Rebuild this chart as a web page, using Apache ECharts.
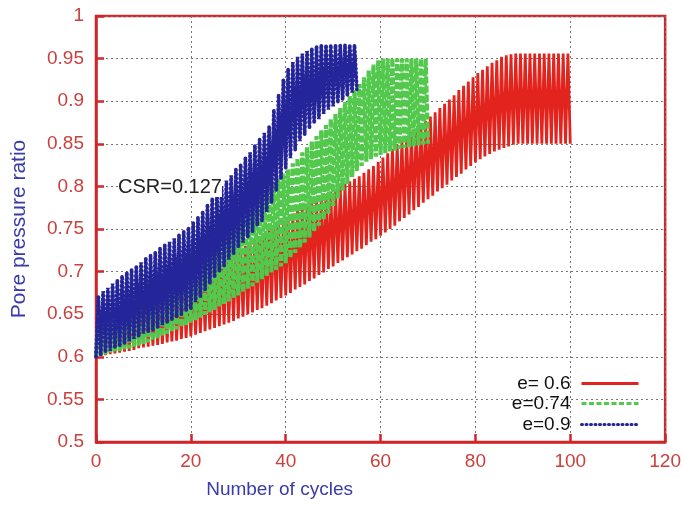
<!DOCTYPE html>
<html>
<head>
<meta charset="utf-8">
<title>Pore pressure ratio vs number of cycles</title>
<script src="https://cdn.jsdelivr.net/npm/echarts@6/dist/echarts.min.js"></script>
<style>
  html, body { margin: 0; padding: 0; background: #fff; }
  #chart { width: 684px; height: 507px; }
</style>
</head>
<body>
<div id="chart"></div>
<script>
// axis ticks
const xTicks = [0, 20, 40, 60, 80, 100, 120]
const yTicks = [0.5, 0.55, 0.6, 0.65, 0.7, 0.75, 0.8, 0.85, 0.9, 0.95, 1]

// e = 0.6 : minimum of each cycle (cycle 0..100) and maximum (cycle 0..99)
const redTrough = [
  .600, .601, .602, .603, .604, .605, .606, .607, .608, .610, .611,
  .612, .613, .614, .615, .617, .618, .619, .621, .622, .624,
  .626, .628, .630, .632, .634, .636, .638, .640, .642, .645,
  .647, .650, .652, .655, .657, .660, .663, .666, .669, .672,
  .675, .679, .682, .685, .689, .692, .696, .699, .703, .706,
  .710, .713, .717, .720, .724, .727, .731, .735, .738, .742,
  .746, .750, .754, .759, .763, .767, .772, .776, .781, .785,
  .789, .794, .798, .802, .807, .811, .815, .820, .824, .828,
  .832, .835, .838, .841, .843, .845, .847, .849, .850, .850,
  .850, .850, .850, .850, .850, .850, .850, .850, .850, .850
]
const redPeak = [
  .628, .632, .635, .638, .641, .644, .647, .650, .654, .657,
  .660, .663, .666, .668, .671, .674, .677, .680, .682, .685,
  .688, .692, .696, .699, .703, .707, .711, .715, .718, .722,
  .726, .730, .734, .738, .741, .745, .749, .753, .757, .760,
  .764, .768, .771, .775, .778, .781, .785, .788, .791, .794,
  .797, .800, .803, .806, .809, .812, .816, .820, .824, .829,
  .834, .839, .844, .849, .854, .859, .864, .868, .873, .877,
  .882, .887, .892, .897, .902, .907, .913, .918, .923, .928,
  .933, .937, .941, .945, .948, .952, .954, .955, .956, .956,
  .956, .956, .956, .956, .956, .956, .956, .956, .956, .956
]

// e = 0.74 : cycle 0..70
const greenTrough = [
  .600, .601, .603, .604, .606, .607, .609, .610, .612, .613, .615,
  .617, .619, .622, .624, .627, .630, .632, .635, .637, .640,
  .643, .646, .649, .652, .655, .659, .662, .665, .669, .672,
  .676, .680, .683, .687, .691, .695, .699, .702, .706, .710,
  .716, .722, .728, .734, .740, .747, .754, .761, .768, .777,
  .786, .795, .803, .811, .818, .824, .829, .832, .835, .837,
  .839, .841, .842, .844, .845, .846, .847, .848, .849, .850
]
const greenPeak = [
  .640, .644, .648, .652, .656, .660, .664, .668, .672, .676,
  .680, .684, .688, .693, .697, .701, .706, .710, .714, .718,
  .722, .727, .731, .736, .740, .745, .750, .756, .761, .767,
  .772, .777, .781, .786, .790, .795, .800, .805, .810, .815,
  .820, .827, .833, .840, .846, .853, .859, .866, .872, .879,
  .885, .892, .899, .906, .913, .920, .928, .936, .943, .948,
  .950, .950, .950, .950, .950, .950, .950, .950, .950, .950
]

// e = 0.9 : cycle 0..55
const blueTrough = [
  .600, .602, .605, .607, .610, .612, .615, .618, .621, .624, .627,
  .630, .632, .635, .637, .640, .643, .647, .650, .654, .657,
  .664, .671, .679, .686, .693, .700, .707, .714, .721, .728,
  .734, .741, .747, .754, .760, .770, .781, .795, .809, .822,
  .833, .843, .853, .861, .868, .874, .879, .885, .890, .894,
  .898, .902, .906, .910, .914
]
const bluePeak = [
  .672, .677, .681, .686, .690, .695, .699, .703, .707, .711,
  .715, .719, .723, .727, .731, .735, .739, .743, .747, .752,
  .757, .764, .771, .779, .786, .793, .800, .807, .813, .820,
  .826, .833, .840, .848, .855, .863, .870, .890, .908, .925,
  .938, .946, .952, .956, .959, .962, .964, .966, .966, .966,
  .966, .966, .966, .966, .966
]

const seriesNames = ['e= 0.6', 'e=0.74', 'e=0.9']

// each cycle: minimum at n, maximum half a cycle later
const cycles = (trough, peak) => {
  const pts = []
  trough.forEach((v, n) => {
    pts.push([n, v])
    if (n < peak.length) pts.push([n + 0.5, peak[n]])
  })
  return pts
}

const font = '"Liberation Sans", Arial, sans-serif'
const frameRed = '#d0262a'
const labelRed = '#c9413f'
const nameBlue = '#3a3aaa'

const chart = echarts.init(document.getElementById('chart'), null, { renderer: 'canvas' })

// one legend per row so the samples line up on the right
const legendAt = (name, top, lineStyle) => ({
  data: [name],
  orient: 'vertical',
  right: 44,
  top: top,
  align: 'right',
  itemWidth: 57,
  itemHeight: 12,
  padding: 0,
  itemStyle: { color: 'rgba(0,0,0,0)', borderWidth: 0 },
  lineStyle: lineStyle,
  textStyle: { fontFamily: font, fontSize: 19, color: '#111', padding: [0, 6, 0, 0] }
})

chart.setOption({
  animation: false,
  backgroundColor: '#fff',
  grid: {
    left: 96, right: 16, top: 16, bottom: 65,
    show: true, borderColor: frameRed, borderWidth: 2.5, backgroundColor: 'transparent'
  },
  legend: [
    legendAt(seriesNames[0], 374, { width: 3 }),
    legendAt(seriesNames[1], 394, { width: 3, type: [5, 2.5] }),
    legendAt(seriesNames[2], 415, { width: 3, type: [1, 3.5], cap: 'round' })
  ],
  xAxis: {
    type: 'value',
    min: xTicks[0],
    max: xTicks[xTicks.length - 1],
    interval: xTicks[1] - xTicks[0],
    name: 'Number of cycles',
    nameLocation: 'middle',
    nameGap: 38,
    nameTextStyle: { fontFamily: font, fontSize: 19, color: nameBlue, padding: [0, 202, 0, 0] },
    axisLine: { show: true, onZero: false, lineStyle: { color: frameRed, width: 2.5 } },
    axisTick: { show: true, inside: true, length: 8, lineStyle: { color: frameRed, width: 2.5 } },
    axisLabel: { fontFamily: font, fontSize: 19, color: labelRed, margin: 10 },
    splitLine: { show: true, lineStyle: { color: '#777', width: 1, type: [2, 3] } }
  },
  yAxis: {
    type: 'value',
    min: yTicks[0],
    max: yTicks[yTicks.length - 1],
    interval: 0.05,
    name: 'Pore pressure ratio',
    nameLocation: 'middle',
    nameGap: 66,
    nameTextStyle: { fontFamily: font, fontSize: 21, color: nameBlue },
    axisLine: { show: true, onZero: false, lineStyle: { color: frameRed, width: 2.5 } },
    axisTick: { show: true, inside: true, length: 8, lineStyle: { color: frameRed, width: 2.5 } },
    axisLabel: { fontFamily: font, fontSize: 19, color: labelRed, margin: 12 },
    splitLine: { show: true, lineStyle: { color: '#777', width: 1, type: [2, 3] } }
  },
  graphic: [{
    type: 'text',
    left: 118,
    top: 177,
    z: 10,
    style: {
      text: 'CSR=0.127',
      fontFamily: font,
      fontSize: 20,
      fill: '#222',
      backgroundColor: '#fff'
    }
  }],
  series: [
    {
      name: seriesNames[0],
      type: 'line',
      data: cycles(redTrough, redPeak),
      symbol: 'none',
      silent: true,
      z: 2,
      lineStyle: { color: '#e3241e', width: 2.8 },
      itemStyle: { color: '#e3241e' }
    },
    {
      name: seriesNames[1],
      type: 'line',
      data: cycles(greenTrough, greenPeak),
      symbol: 'none',
      silent: true,
      z: 3,
      lineStyle: { color: '#52c84c', width: 4.2, type: [7, 2] },
      itemStyle: { color: '#52c84c' }
    },
    {
      name: seriesNames[2],
      type: 'line',
      data: cycles(blueTrough, bluePeak),
      symbol: 'none',
      silent: true,
      z: 4,
      lineStyle: { color: '#25259a', width: 3.8, type: [1, 3.2], cap: 'round' },
      itemStyle: { color: '#25259a' }
    }
  ]
})
</script>
</body>
</html>
